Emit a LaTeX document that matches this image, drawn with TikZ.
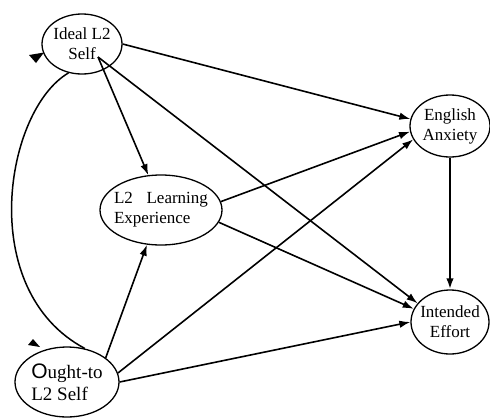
\documentclass[tikz,border=0pt]{standalone}
\usepackage{fontspec}
\setmainfont{Liberation Serif}
\newfontfamily\bigofont{Liberation Sans}
\usetikzlibrary{arrows.meta,shapes.geometric}

\begin{document}
\begin{tikzpicture}[
  x=1pt, y=-1pt,
  var/.style={draw, ellipse, line width=1.3pt, inner sep=-4pt, align=center,
    font=\fontsize{17}{20}\selectfont},
  arr/.style={-{Latex[length=11pt,width=7.5pt]}, line width=1.6pt},
  tip/.style={fill=black}
]
\useasboundingbox (0,0) rectangle (490,418);

\node[var, minimum width=80pt, minimum height=60pt] (ideal) at (82,44) {Ideal L2\\Self};
\node[var, align=left, minimum width=122pt, minimum height=70pt] (l2le) at (161,210) {L2\hspace{0.55em} Learning\\Experience};
\node[var, align=left, minimum width=104pt, minimum height=70pt, font=\fontsize{19}{22}\selectfont] (ought) at (67,382) {{\bigofont\fontsize{21}{22}\selectfont O}ught-to\\L2 Self};
\node[var, minimum width=80pt, minimum height=62pt] (anx) at (450,126) {English\\Anxiety};
\node[var, minimum width=78pt, minimum height=64pt] (inte) at (450,322) {Intended\\Effort};
\coordinate (selfend) at (98,57);

\draw[arr] (ideal.0) -- (anx.170);
\draw[arr] (selfend) -- (l2le.110);
\draw[arr] (selfend) -- (inte.150);
\draw[arr] (l2le.8) -- (anx.188);
\draw[arr] (l2le.348) -- (inte.160);
\draw[arr] (ought.32) -- (l2le.248);
\draw[arr] (ought.10) -- (anx.200);
\draw[arr] (ought.east) -- (inte.west);
\draw[arr, line width=2.4pt] (anx.south) -- (inte.north);

\draw[line width=1.5pt] (ideal.245) .. controls (5,110) and (-25,290) .. (ought.62);
\fill[tip] (29,55) -- (44,52.5) -- (36,63) -- cycle;
\fill[tip] (28,345) -- (33,339) -- (40,347) -- cycle;
\end{tikzpicture}
\end{document}
